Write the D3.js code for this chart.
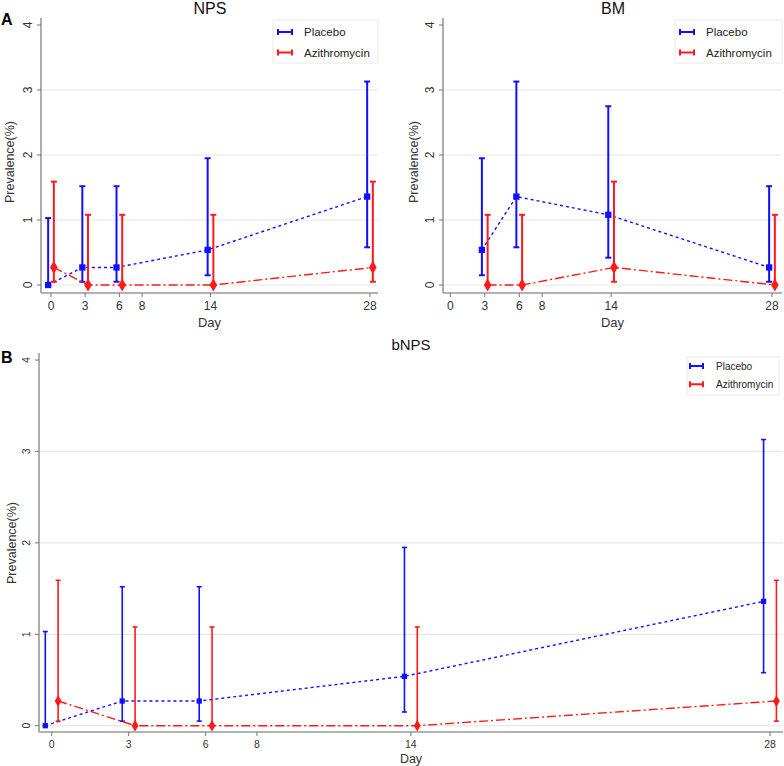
<!DOCTYPE html>
<html><head><meta charset="utf-8">
<script src="https://cdn.jsdelivr.net/npm/d3@7"></script>
<style>body{margin:0;background:#fff}svg{display:block;font-family:"Liberation Sans",Arial,sans-serif}</style>
</head><body>
<svg id="c" width="784" height="766"></svg>
<script>
// ---------- data ----------
const seriesNames = ["Placebo", "Azithromycin"];
const xTicks = [0, 3, 6, 8, 14, 28];
const yTicks = [0, 1, 2, 3, 4];
const gridTicks = [0, 1, 2, 3];

// NPS
const npsDays = [0, 3, 6, 14, 28];
const npsPlacebo = [0, 0.27, 0.27, 0.54, 1.36];
const npsPlaceboLo = [0, 0.05, 0.05, 0.15, 0.58];
const npsPlaceboHi = [1.03, 1.52, 1.52, 1.95, 3.13];
const npsAzi = [0.27, 0, 0, 0, 0.27];
const npsAziLo = [0.05, 0, 0, 0, 0.05];
const npsAziHi = [1.59, 1.08, 1.08, 1.08, 1.59];

// BM
const bmDays = [3, 6, 14, 28];
const bmPlacebo = [0.54, 1.36, 1.08, 0.27];
const bmPlaceboLo = [0.15, 0.58, 0.42, 0.05];
const bmPlaceboHi = [1.95, 3.13, 2.75, 1.52];
const bmAzi = [0, 0, 0.27, 0];
const bmAziLo = [0, 0, 0.05, 0];
const bmAziHi = [1.08, 1.08, 1.59, 1.08];

// bNPS
const bnpsDays = [0, 3, 6, 14, 28];
const bnpsPlacebo = [0, 0.27, 0.27, 0.54, 1.36];
const bnpsPlaceboLo = [0, 0.05, 0.05, 0.15, 0.58];
const bnpsPlaceboHi = [1.03, 1.52, 1.52, 1.95, 3.13];
const bnpsAzi = [0.27, 0, 0, 0, 0.27];
const bnpsAziLo = [0.05, 0, 0, 0, 0.05];
const bnpsAziHi = [1.59, 1.08, 1.08, 1.08, 1.59];

const BLUE = "#1010ff", RED = "#ff1a1a";
const svg = d3.select("#c");

function build(days, v, lo, hi) { return days.map((d, i) => ({day: d, v: v[i], lo: lo[i], hi: hi[i]})); }

function panel(o) {
  const g = svg.append("g");
  const x = d3.scaleLinear().domain([0, 28]).range([o.x0, o.x28]);
  const y = d3.scaleLinear().domain([0, 4]).range([o.y0, o.y4]);
  // gridlines
  g.selectAll(".grid").data(gridTicks).join("line")
    .attr("x1", o.axisX).attr("x2", o.right)
    .attr("y1", d => y(d)).attr("y2", d => y(d))
    .attr("stroke", "#e8e8e8").attr("stroke-width", 1.2);
  // axes lines
  g.append("line").attr("x1", o.axisX).attr("x2", o.axisX).attr("y1", o.axisTop).attr("y2", o.axisBottom)
    .attr("stroke", "#999").attr("stroke-width", 1.6);
  g.append("line").attr("x1", o.axisX).attr("x2", o.right).attr("y1", o.axisBottom).attr("y2", o.axisBottom)
    .attr("stroke", "#999").attr("stroke-width", 1.6);
  // y ticks
  g.selectAll(".yt").data(yTicks).join("line")
    .attr("x1", o.axisX - 4).attr("x2", o.axisX).attr("y1", d => y(d)).attr("y2", d => y(d))
    .attr("stroke", "#777");
  g.selectAll(".yl").data(yTicks).join("text")
    .attr("transform", d => `translate(${o.axisX - 9},${y(d)}) rotate(-90)`)
    .attr("text-anchor", "middle").attr("font-size", o.tickFs).attr("fill", "#333").text(d => d);
  // x ticks
  g.selectAll(".xt").data(xTicks).join("line")
    .attr("x1", d => x(d)).attr("x2", d => x(d)).attr("y1", o.axisBottom).attr("y2", o.axisBottom + 4)
    .attr("stroke", "#777");
  g.selectAll(".xl").data(xTicks).join("text")
    .attr("x", d => x(d)).attr("y", o.axisBottom + 5 + o.tickFs)
    .attr("text-anchor", "middle").attr("font-size", o.tickFs).attr("fill", "#333").text(d => d);
  // axis titles
  g.append("text").attr("x", (o.axisX + o.right) / 2).attr("y", o.dayY).attr("text-anchor", "middle")
    .attr("font-size", o.labFs).attr("fill", "#333").text("Day");
  g.append("text").attr("transform", `translate(${o.ylabX},${o.ylabY}) rotate(-90)`).attr("text-anchor", "middle")
    .attr("font-size", o.ylabFs).attr("fill", "#333").text("Prevalence(%)");
  g.append("text").attr("x", o.titleX).attr("y", o.titleY).attr("text-anchor", "middle")
    .attr("font-size", o.titleFs).attr("fill", "#111").text(o.title);

  const series = [
    {data: o.placebo, off: -0.25, color: BLUE, dash: "3,3", marker: d3.symbolSquare, msize: o.sqSize},
    {data: o.azi, off: 0.25, color: RED, dash: "9,3,2,3", marker: d3.symbolDiamond, msize: o.diSize}
  ];
  series.forEach(s => {
    const X = d => x(d.day + s.off);
    g.append("path").datum(s.data)
      .attr("d", d3.line().x(X).y(d => y(d.v)))
      .attr("fill", "none").attr("stroke", s.color).attr("stroke-width", 1.4).attr("stroke-dasharray", s.dash);
    const eb = g.append("g").attr("stroke", s.color).attr("stroke-width", o.ebW);
    eb.selectAll(".v").data(s.data).join("line")
      .attr("x1", X).attr("x2", X).attr("y1", d => y(d.lo)).attr("y2", d => y(d.hi));
    eb.selectAll(".ch").data(s.data).join("line")
      .attr("x1", d => X(d) - o.cap).attr("x2", d => X(d) + o.cap).attr("y1", d => y(d.hi)).attr("y2", d => y(d.hi));
    eb.selectAll(".cl").data(s.data).join("line")
      .attr("x1", d => X(d) - o.cap).attr("x2", d => X(d) + o.cap).attr("y1", d => y(d.lo)).attr("y2", d => y(d.lo));
    g.selectAll(null).data(s.data).join("path")
      .attr("transform", d => `translate(${X(d)},${y(d.v)})`)
      .attr("d", d3.symbol().type(s.marker).size(s.msize)).attr("fill", s.color);
  });

  // legend
  const L = o.legend;
  g.append("rect").attr("x", L.x).attr("y", L.y).attr("width", L.w).attr("height", L.h)
    .attr("fill", "#fff").attr("stroke", "#eaeaea");
  [BLUE, RED].forEach((c, i) => {
    const yy = L.y + L.pad + i * L.gap;
    const lg = g.append("g").attr("stroke", c).attr("stroke-width", 2);
    lg.append("line").attr("x1", L.x + L.sx).attr("x2", L.x + L.sx + L.sw).attr("y1", yy).attr("y2", yy);
    lg.append("line").attr("x1", L.x + L.sx).attr("x2", L.x + L.sx).attr("y1", yy - 3).attr("y2", yy + 3);
    lg.append("line").attr("x1", L.x + L.sx + L.sw).attr("x2", L.x + L.sx + L.sw).attr("y1", yy - 3).attr("y2", yy + 3);
    g.append("text").attr("x", L.x + L.tx).attr("y", yy + L.fs * 0.36).attr("font-size", L.fs).attr("fill", "#222")
      .text(seriesNames[i]);
  });
}

panel({
  title: "NPS", titleX: 210, titleY: 14, titleFs: 16,
  x0: 51, x28: 370, y0: 285, y4: 25, axisX: 41, right: 378, axisTop: 18, axisBottom: 293,
  tickFs: 12, labFs: 13, dayY: 327, ylabX: 14, ylabY: 162, ylabFs: 12.5,
  placebo: build(npsDays, npsPlacebo, npsPlaceboLo, npsPlaceboHi),
  azi: build(npsDays, npsAzi, npsAziLo, npsAziHi),
  ebW: 2, cap: 3, sqSize: 40, diSize: 50,
  legend: {x: 273, y: 20, w: 105, h: 43, pad: 12, gap: 20.5, sx: 5, sw: 14, tx: 31, fs: 11.5}
});
panel({
  title: "BM", titleX: 613, titleY: 14, titleFs: 16,
  x0: 450.3, x28: 772, y0: 285, y4: 25, axisX: 443, right: 782, axisTop: 18, axisBottom: 293,
  tickFs: 12, labFs: 13, dayY: 327, ylabX: 418, ylabY: 162, ylabFs: 12.5,
  placebo: build(bmDays, bmPlacebo, bmPlaceboLo, bmPlaceboHi),
  azi: build(bmDays, bmAzi, bmAziLo, bmAziHi),
  ebW: 2, cap: 3, sqSize: 40, diSize: 50,
  legend: {x: 675, y: 20, w: 107, h: 43, pad: 12, gap: 20.5, sx: 5, sw: 14, tx: 31, fs: 11.5}
});
panel({
  title: "bNPS", titleX: 411, titleY: 350, titleFs: 15,
  x0: 51.7, x28: 770, y0: 725.7, y4: 360, axisX: 39, right: 783, axisTop: 353, axisBottom: 732,
  tickFs: 10.5, labFs: 12.5, dayY: 763, ylabX: 16, ylabY: 543, ylabFs: 12.5,
  placebo: build(bnpsDays, bnpsPlacebo, bnpsPlaceboLo, bnpsPlaceboHi),
  azi: build(bnpsDays, bnpsAzi, bnpsAziLo, bnpsAziHi),
  ebW: 1.6, cap: 2.5, sqSize: 28, diSize: 40,
  legend: {x: 687, y: 357, w: 92, h: 38, pad: 9, gap: 18.3, sx: 3, sw: 13, tx: 29, fs: 10}
});

// panel letters
svg.append("text").attr("x", 1).attr("y", 25).attr("font-size", 16).attr("font-weight", "bold").text("A");
svg.append("text").attr("x", 1).attr("y", 363).attr("font-size", 16).attr("font-weight", "bold").text("B");
</script>
</body></html>
